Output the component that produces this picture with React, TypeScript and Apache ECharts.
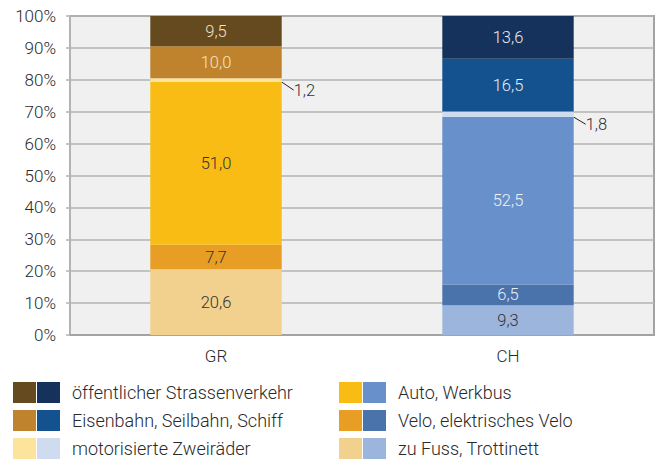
import React, { useEffect, useRef } from "react";
import * as echarts from "echarts";

const categories = ["GR", "CH"];
const seriesNames = [
  "zu Fuss, Trottinett",
  "Velo, elektrisches Velo",
  "Auto, Werkbus",
  "motorisierte Zweiräder",
  "Eisenbahn, Seilbahn, Schiff",
  "öffentlicher Strassenverkehr",
];
const grValues = [20.6, 7.7, 51.0, 1.2, 10.0, 9.5];
const chValues = [9.3, 6.5, 52.5, 1.8, 16.5, 13.6];
const yTicks = [0, 10, 20, 30, 40, 50, 60, 70, 80, 90, 100];

const grColors = ["#f2d18e", "#e89e24", "#f8bc14", "#fde49c", "#be832c", "#664a1f"];
const chColors = ["#9bb5dd", "#4a72ab", "#6890ca", "#cfdcef", "#13528e", "#15325c"];
const grLabelColors = ["#333", "#333", "#333", "#333", "#f3e3c4", "#f0e2c8"];
const chLabelColors = ["#333", "#e6ecf5", "#eef2f8", "#333", "#e6ecf5", "#e6ecf5"];

const FONT = "Roboto";
const fmt = (v: number) => v.toFixed(1).replace(".", ",");

export default function App() {
  const ref = useRef<HTMLDivElement>(null);
  useEffect(() => {
    if (!ref.current) return;
    const chart = echarts.init(ref.current, undefined, { renderer: "svg" });

    const series = seriesNames.map((name, i) => {
      const outside = i === 3;
      return {
        name,
        type: "bar",
        stack: "total",
        barWidth: "45%",
        data: [
          { value: grValues[i], itemStyle: { color: grColors[i] }, label: { color: grLabelColors[i] } },
          { value: chValues[i], itemStyle: { color: chColors[i] }, label: { color: chLabelColors[i] } },
        ],
        label: {
          show: true,
          position: outside ? "right" : "inside",
          formatter: (p: any) => fmt(p.value),
          fontFamily: FONT,
          fontWeight: 300,
          fontSize: 16.5,
          distance: 4,
        },
        labelLayout: outside ? { dx: 8, dy: 10 } : undefined,
        labelLine: outside ? { show: true, lineStyle: { color: "#222", width: 1 } } : undefined,
        emphasis: { disabled: true },
      };
    });

    const legendLeft = seriesNames.slice(3).reverse();
    const legendRight = seriesNames.slice(0, 3).reverse();
    const graphics: any[] = [];
    const rowTops = [382, 410, 438];
    const addCol = (names: string[], x: number) => {
      names.forEach((n, r) => {
        const idx = seriesNames.indexOf(n);
        graphics.push({ type: "rect", left: x, top: rowTops[r], shape: { width: 23, height: 21 }, style: { fill: grColors[idx] } });
        graphics.push({ type: "rect", left: x + 24, top: rowTops[r], shape: { width: 23, height: 21 }, style: { fill: chColors[idx] } });
        graphics.push({
          type: "text",
          left: x + 59,
          top: rowTops[r] + 1,
          style: { text: n, fill: "#2a2a2a", font: `300 18px ${FONT}` },
        });
      });
    };
    addCol(legendLeft, 13);
    addCol(legendRight, 339);

    chart.setOption({
      animation: false,
      grid: {
        left: 70,
        right: 9,
        top: 16,
        bottom: 124,
        show: true,
        backgroundColor: "#eff0ef",
        borderColor: "#a3a3a3",
        borderWidth: 2,
      },
      xAxis: {
        type: "category",
        data: categories,
        axisLine: { lineStyle: { color: "#a3a3a3", width: 2 } },
        axisTick: { show: false },
        axisLabel: { color: "#2a2a2a", fontFamily: FONT, fontWeight: 300, fontSize: 17, margin: 12 },
      },
      yAxis: {
        type: "value",
        min: yTicks[0],
        max: yTicks[yTicks.length - 1],
        interval: 10,
        axisLine: { show: true, lineStyle: { color: "#b3b3b3", width: 2 } },
        axisTick: { show: true, length: 4, lineStyle: { color: "#b3b3b3", width: 1.5 } },
        splitLine: { lineStyle: { color: "#b3b3b3", width: 1.5 } },
        axisLabel: {
          color: "#2a2a2a",
          fontFamily: FONT,
          fontWeight: 300,
          fontSize: 17,
          margin: 14,
          formatter: (v: number) => `${v}%`,
        },
      },
      series,
      graphic: graphics,
    });
    return () => chart.dispose();
  }, []);
  return <div ref={ref} style={{ width: 663, height: 459, position: "absolute", left: 0, top: 0 }} />;
}
